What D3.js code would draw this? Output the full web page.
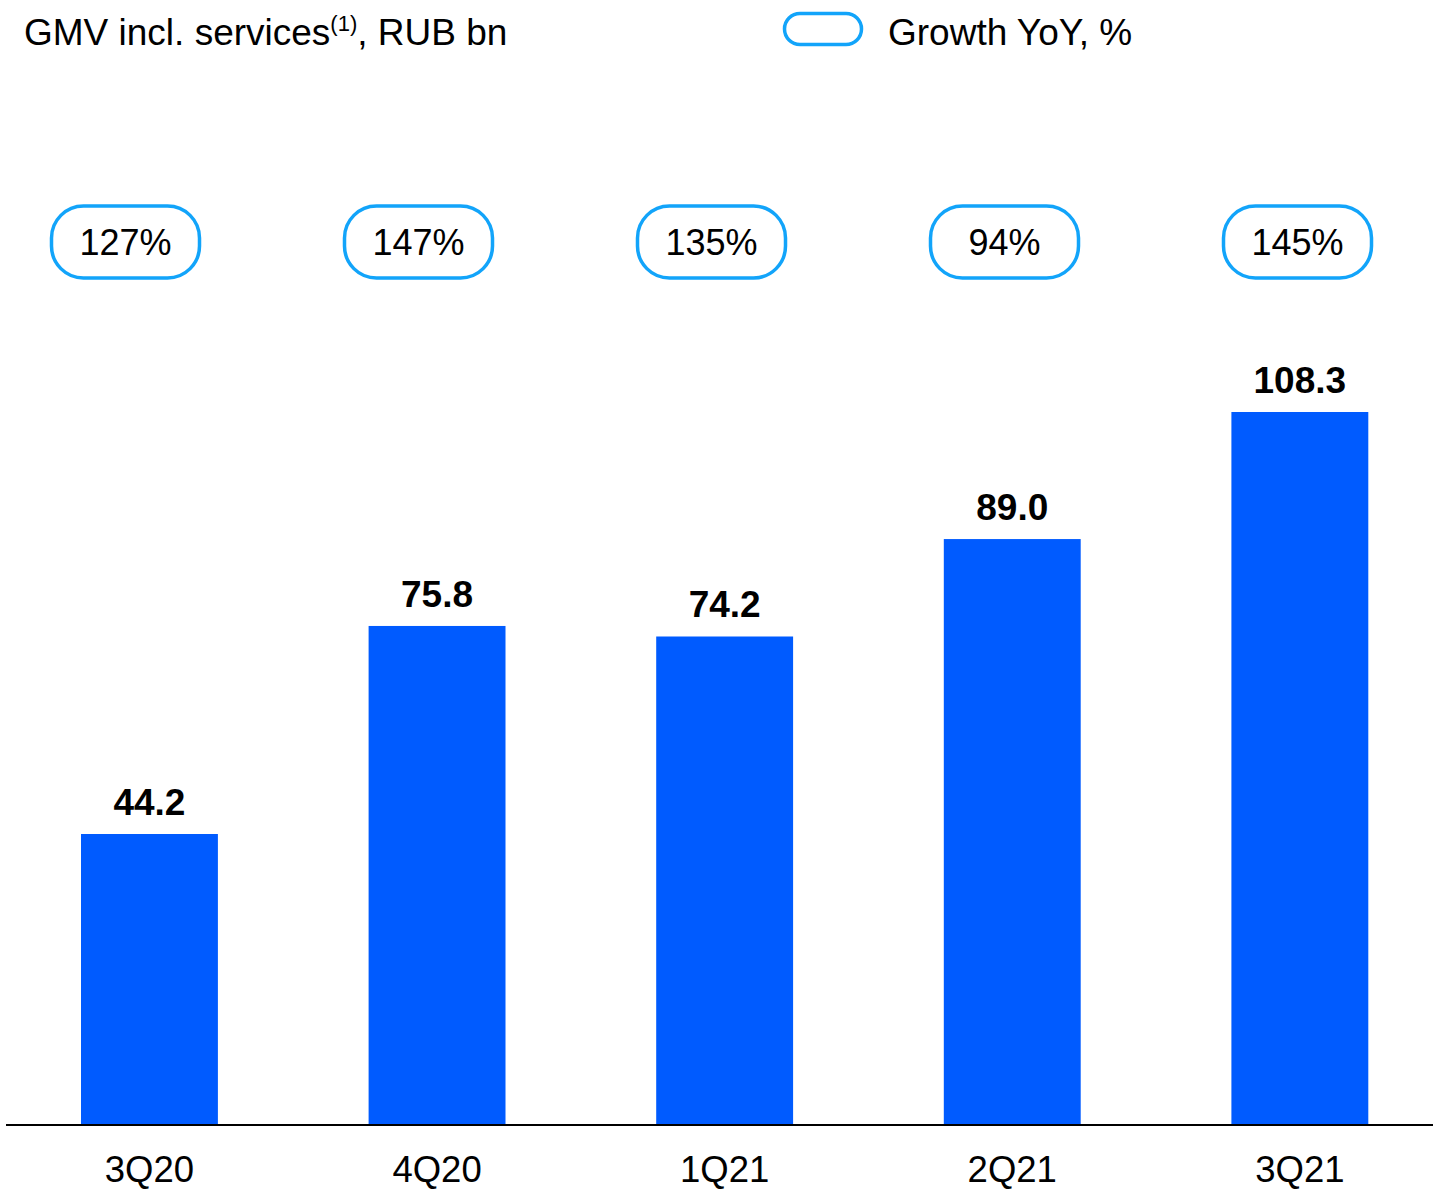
<!DOCTYPE html>
<html lang="en">
<head>
  <meta charset="UTF-8" />
  <title>GMV incl. services, RUB bn</title>
  <script src="https://d3js.org/d3.v7.min.js"></script>
  <style>
    body {
      margin: 0;
      background: #fff;
      font-family: "Liberation Sans", Arial, sans-serif;
    }
    svg { display: block; }
    .title, .legend-label { font-size: 37px; fill: #000; }
    .value { font-size: 37px; font-weight: bold; fill: #000; text-anchor: middle; }
    .growth { font-size: 36px; fill: #000; text-anchor: middle; }
    .tick-label { font-size: 36.5px; fill: #000; text-anchor: middle; }
    .pill { fill: #fff; stroke: #12A4FA; stroke-width: 3.5px; }
  </style>
</head>
<body>
  <svg id="chart" width="1433" height="1189"></svg>

  <script>
    // Data
    const quarters = ["3Q20", "4Q20", "1Q21", "2Q21", "3Q21"];
    const gmv = [44.2, 75.8, 74.2, 89.0, 108.3];
    const growth = [127, 147, 135, 94, 145];

    const width = 1433;
    const height = 1189;
    const baseline = 1125;
    const svg = d3.select("#chart");

    // x: bars sit in bands, growth pills use their own point scale
    const x = d3.scaleBand()
      .domain(quarters)
      .range([5.65, 1443.65])
      .paddingInner(0.524)
      .paddingOuter(0.262);

    const xPill = d3.scalePoint()
      .domain(quarters)
      .range([125.5, 1297.5]);

    // y: 0 at baseline, ~6.58 px per RUB bn
    const y = d3.scaleLinear()
      .domain([0, 108.3])
      .range([baseline, 412]);

    // Title
    const title = svg.append("text")
      .attr("class", "title")
      .attr("x", 24)
      .attr("y", 45);
    title.append("tspan").text("GMV incl. services");
    title.append("tspan").attr("dy", -14).style("font-size", "22px").text("(1)");
    title.append("tspan").attr("dy", 14).text(", RUB bn");

    // Legend
    svg.append("rect")
      .attr("class", "pill")
      .attr("x", 784.5).attr("y", 13.5)
      .attr("width", 77).attr("height", 31)
      .attr("rx", 15.5);
    svg.append("text")
      .attr("class", "legend-label")
      .attr("x", 888)
      .attr("y", 45)
      .text("Growth YoY, %");

    // Bars
    svg.selectAll(".bar")
      .data(quarters)
      .enter()
      .append("rect")
      .attr("class", "bar")
      .attr("x", d => x(d))
      .attr("width", x.bandwidth())
      .attr("y", (d, i) => y(gmv[i]))
      .attr("height", (d, i) => baseline - y(gmv[i]))
      .attr("fill", "#005BFF");

    // Value labels
    svg.selectAll(".value")
      .data(quarters)
      .enter()
      .append("text")
      .attr("class", "value")
      .attr("x", d => x(d) + x.bandwidth() / 2)
      .attr("y", (d, i) => y(gmv[i]) - 19)
      .text((d, i) => d3.format(".1f")(gmv[i]));

    // Growth pills
    const pills = svg.selectAll(".growth-pill")
      .data(quarters)
      .enter()
      .append("g")
      .attr("class", "growth-pill")
      .attr("transform", d => `translate(${xPill(d)},242)`);

    pills.append("rect")
      .attr("class", "pill")
      .attr("x", -74).attr("y", -36)
      .attr("width", 148).attr("height", 72)
      .attr("rx", 32);

    pills.append("text")
      .attr("class", "growth")
      .attr("y", 13)
      .text((d, i) => growth[i] + "%");

    // Axis
    const axis = svg.append("g")
      .attr("transform", `translate(0,${baseline})`)
      .call(d3.axisBottom(x).tickSize(0).tickPadding(0));
    axis.select(".domain").remove();
    axis.selectAll("text")
      .attr("class", "tick-label")
      .attr("y", 57)
      .attr("dy", null)
      .attr("fill", null)
      .attr("font-size", null)
      .attr("font-family", null);

    svg.append("line")
      .attr("x1", 6).attr("x2", width)
      .attr("y1", baseline).attr("y2", baseline)
      .attr("stroke", "#000")
      .attr("stroke-width", 2);
  </script>
</body>
</html>
